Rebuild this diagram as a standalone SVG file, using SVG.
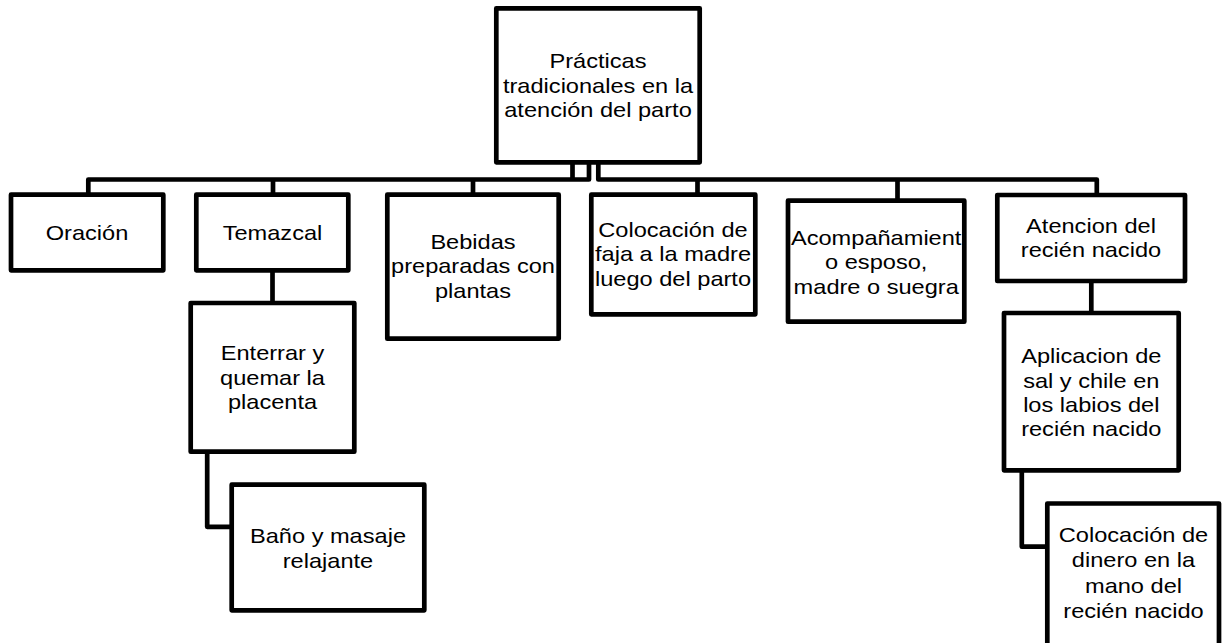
<svg xmlns="http://www.w3.org/2000/svg" width="1222" height="643" viewBox="0 0 1222 643">
<style>
.box{fill:#fff;stroke:#000;stroke-width:4.7;stroke-linejoin:round}
.con{fill:none;stroke:#000;stroke-width:4.7;stroke-linejoin:round}
.lbl{font-family:"Liberation Sans",Arial,sans-serif;font-size:20px;text-anchor:middle;fill:#000}
</style>
<rect width="1222" height="643" fill="#fff"/>
<g id="connectors">
<path class="con" d="M572.5 162.3V179.5"/>
<path class="con" d="M589 162.3V179.5H88.3V194.7"/>
<path class="con" d="M273 179.5V194.7"/>
<path class="con" d="M473 179.5V194.7"/>
<path class="con" d="M598.3 162.3V179.5H1096.8V195"/>
<path class="con" d="M697.5 179.5V194.7"/>
<path class="con" d="M897.5 179.5V200.7"/>
<path class="con" d="M272.5 270.3V303"/>
<path class="con" d="M207.2 451.7V526.8H231.7"/>
<path class="con" d="M1091.3 281V313"/>
<path class="con" d="M1021.8 470.3V546.7H1047.3"/>
</g>
<g id="root">
<rect class="box" x="496.3" y="8.3" width="203.4" height="154"/>
<text class="lbl" transform="translate(598 0) scale(1.18 1)"><tspan x="0" y="68.3">Prácticas</tspan><tspan x="0" y="92.6">tradicionales en la</tspan><tspan x="0" y="116.8">atención del parto</tspan></text>
</g>
<g id="oracion">
<rect class="box" x="11" y="194.7" width="152.3" height="75.6"/>
<text class="lbl" transform="translate(87 0) scale(1.18 1)"><tspan x="0" y="240.5">Oración</tspan></text>
</g>
<g id="temazcal">
<rect class="box" x="196.3" y="194.7" width="152" height="75.6"/>
<text class="lbl" transform="translate(272.5 0) scale(1.18 1)"><tspan x="0" y="240.5">Temazcal</tspan></text>
</g>
<g id="bebidas">
<rect class="box" x="387.3" y="194.7" width="171.4" height="144"/>
<text class="lbl" transform="translate(473 0) scale(1.18 1)"><tspan x="0" y="248.8">Bebidas</tspan><tspan x="0" y="273.4">preparadas con</tspan><tspan x="0" y="298">plantas</tspan></text>
</g>
<g id="faja">
<rect class="box" x="591.3" y="194.7" width="164" height="119.6"/>
<text class="lbl" transform="translate(673 0) scale(1.18 1)"><tspan x="0" y="237">Colocación de</tspan><tspan x="0" y="261.3">faja a la madre</tspan><tspan x="0" y="285.6">luego del parto</tspan></text>
</g>
<g id="acompanamiento">
<rect class="box" x="788" y="200.7" width="176.3" height="121"/>
<text class="lbl" transform="translate(876.2 0) scale(1.18 1)"><tspan x="0" y="244.8">Acompañamient</tspan><tspan x="0" y="269.3">o esposo,</tspan><tspan x="0" y="293.6">madre o suegra</tspan></text>
</g>
<g id="atencion">
<rect class="box" x="997.3" y="195" width="187.7" height="86"/>
<text class="lbl" transform="translate(1091 0) scale(1.18 1)"><tspan x="0" y="232.8">Atencion del</tspan><tspan x="0" y="257.3">recién nacido</tspan></text>
</g>
<g id="enterrar">
<rect class="box" x="190.7" y="303" width="163.6" height="148.7"/>
<text class="lbl" transform="translate(272.5 0) scale(1.18 1)"><tspan x="0" y="360.5">Enterrar y</tspan><tspan x="0" y="385">quemar la</tspan><tspan x="0" y="409.5">placenta</tspan></text>
</g>
<g id="bano">
<rect class="box" x="231.7" y="484.7" width="192.6" height="125.6"/>
<text class="lbl" transform="translate(328 0) scale(1.18 1)"><tspan x="0" y="543.5">Baño y masaje</tspan><tspan x="0" y="567.8">relajante</tspan></text>
</g>
<g id="aplicacion">
<rect class="box" x="1004" y="313" width="174.7" height="157.3"/>
<text class="lbl" transform="translate(1091.3 0) scale(1.18 1)"><tspan x="0" y="363.3">Aplicacion de</tspan><tspan x="0" y="387.6">sal y chile en</tspan><tspan x="0" y="411.9">los labios del</tspan><tspan x="0" y="436.2">recién nacido</tspan></text>
</g>
<g id="dinero">
<rect class="box" x="1047.3" y="503.5" width="171.7" height="160"/>
<text class="lbl" transform="translate(1133.5 0) scale(1.18 1)"><tspan x="0" y="541.7">Colocación de</tspan><tspan x="0" y="567.2">dinero en la</tspan><tspan x="0" y="592.7">mano del</tspan><tspan x="0" y="618.2">recién nacido</tspan></text>
</g>
</svg>
